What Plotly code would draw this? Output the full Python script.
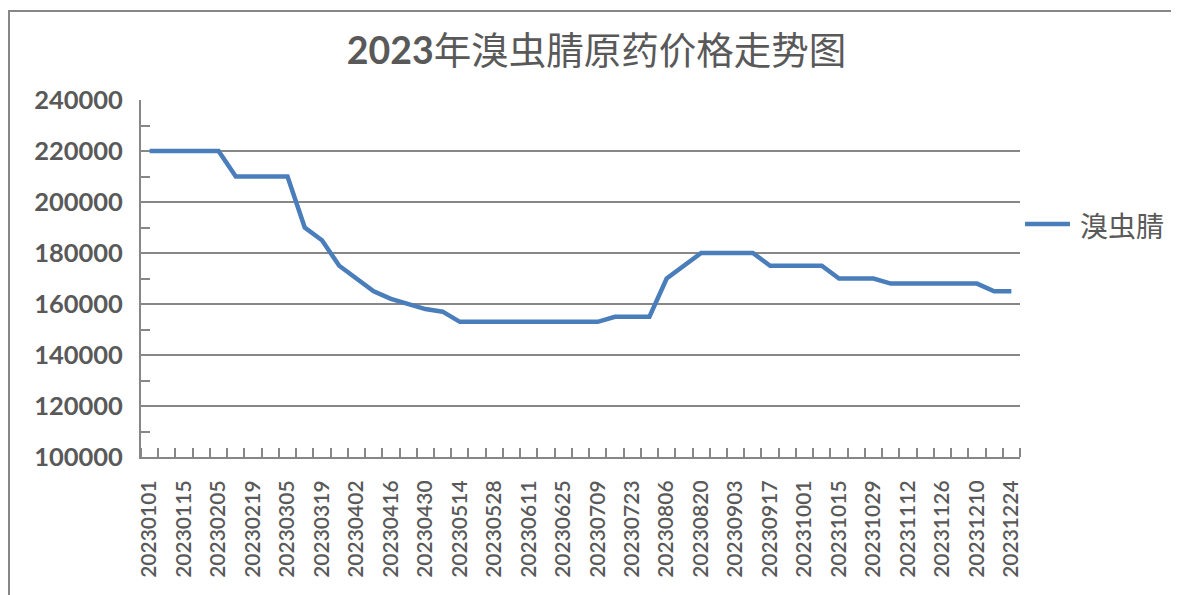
import plotly.graph_objects as go

dates = ["20230101", "20230108", "20230115", "20230129", "20230205", "20230212", "20230219",
         "20230226", "20230305", "20230312", "20230319", "20230326", "20230402", "20230409",
         "20230416", "20230423", "20230430", "20230507", "20230514", "20230521", "20230528",
         "20230604", "20230611", "20230618", "20230625", "20230702", "20230709", "20230716",
         "20230723", "20230730", "20230806", "20230813", "20230820", "20230827", "20230903",
         "20230910", "20230917", "20230924", "20231001", "20231008", "20231015", "20231022",
         "20231029", "20231105", "20231112", "20231119", "20231126", "20231203", "20231210",
         "20231217", "20231224"]

prices = [220000, 220000, 220000, 220000, 220000, 210000, 210000, 210000, 210000, 190000,
          185000, 175000, 170000, 165000, 162000, 160000, 158000, 157000, 153000, 153000,
          153000, 153000, 153000, 153000, 153000, 153000, 153000, 155000, 155000, 155000,
          170000, 175000, 180000, 180000, 180000, 180000, 175000, 175000, 175000, 175000,
          170000, 170000, 170000, 168000, 168000, 168000, 168000, 168000, 168000, 165000,
          165000]

series_name = "溴虫腈"
title_year = "2023"
title_rest = "年溴虫腈原药价格走势图"

idx = list(range(len(dates)))
tick_idx = idx[::2]
tick_text = dates[::2]

GRAY = "#595959"
GRID = "#878787"
LINE = "#4A7EBB"
FONT = "Lato, 'Noto Sans CJK SC', sans-serif"

fig = go.Figure()
fig.add_trace(go.Scatter(
    x=idx, y=prices, mode="lines", name=series_name,
    line=dict(color=LINE, width=4.5), showlegend=False,
))

# page body has an 8px margin; figure coordinates = reference pixels - 8
W, H = 1171, 587
L, R, T, B = 133, 159, 92, 138
pw, ph = W - L - R, H - T - B


def px(x):
    return (x - L) / pw


def py(y):
    return (H - B - y) / ph


fig.update_layout(
    width=W, height=H,
    margin=dict(l=L, r=R, t=T, b=B),
    paper_bgcolor="white", plot_bgcolor="white",
    font=dict(family=FONT, color=GRAY),
    title=dict(text=f"<b>{title_year}</b>{title_rest}", x=588.5 / W, xanchor="center",
               y=1 - 43 / H, yanchor="middle",
               font=dict(size=37.5, color=GRAY, family=FONT)),
    showlegend=False,
    xaxis=dict(
        range=[-0.5, len(dates) - 0.5],
        tickmode="array", tickvals=tick_idx, ticktext=tick_text,
        tickangle=-90, ticks="", showgrid=False, zeroline=False,
        showline=True, linecolor=GRID, linewidth=2,
        tickfont=dict(size=21, color=GRAY, family=FONT, weight=600),
        minor=dict(tick0=-0.5, dtick=1, ticks="inside", ticklen=9,
                   tickcolor=GRID, tickwidth=1.5, showgrid=False),
        ticklabelstandoff=13,
    ),
    yaxis=dict(
        range=[100000, 240000], dtick=20000, tick0=100000, tickformat="d",
        showgrid=True, gridcolor=GRID, gridwidth=1.5, zeroline=False,
        showline=True, linecolor=GRID, linewidth=2, ticks="",
        tickfont=dict(size=25.5, color=GRAY, family=FONT, weight="bold"),
        minor=dict(tick0=110000, dtick=20000, ticks="inside", ticklen=9,
                   tickcolor=GRID, tickwidth=1.5, showgrid=False),
        ticklabelstandoff=11,
    ),
)

# legend drawn by hand
fig.add_shape(type="line", xref="paper", yref="paper",
              x0=px(1017), x1=px(1062), y0=py(216), y1=py(216),
              line=dict(color=LINE, width=4.5))
fig.add_annotation(xref="paper", yref="paper", x=px(1070), y=py(218),
                   xanchor="left", yanchor="middle", showarrow=False,
                   text=series_name, font=dict(size=28, color=GRAY, family=FONT))

# outer chart border
fig.add_shape(type="rect", xref="paper", yref="paper",
              x0=px(1), x1=px(W + 10), y0=py(H + 10), y1=py(3),
              line=dict(color=GRID, width=2), fillcolor="rgba(0,0,0,0)", layer="below")

fig.write_html("out.html")
